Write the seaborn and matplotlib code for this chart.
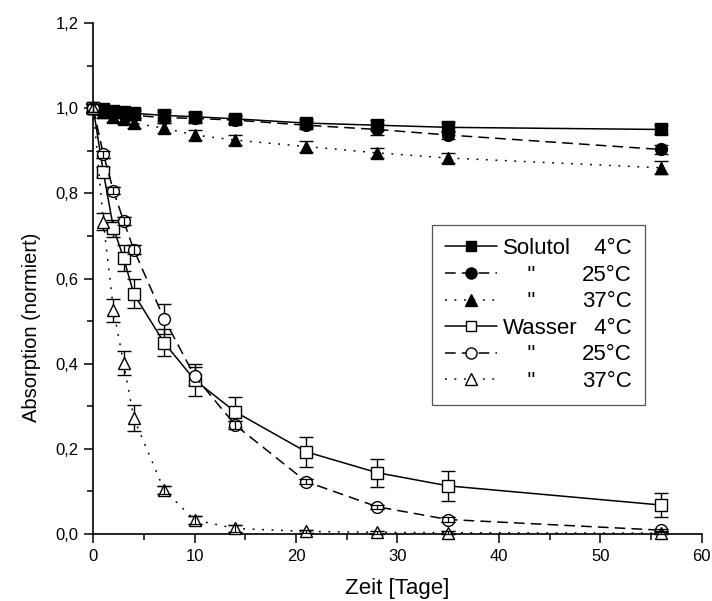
import matplotlib
matplotlib.use("Agg")
import matplotlib.pyplot as plt
import numpy as np
import pandas as pd
import seaborn as sns
from matplotlib.lines import Line2D
from matplotlib.ticker import MultipleLocator, FuncFormatter

# Sampling days
days = [0, 1, 2, 3, 4, 7, 10, 14, 21, 28, 35, 56]

# Normalised absorption, Solutol formulation
solutol_4 = [1.0, 0.997, 0.993, 0.99, 0.988, 0.983, 0.98, 0.975, 0.965, 0.96, 0.955, 0.95]
solutol_4_err = [0.012, 0.01, 0.01, 0.01, 0.01, 0.012, 0.01, 0.01, 0.01, 0.012, 0.012, 0.01]
solutol_25 = [1.0, 0.995, 0.99, 0.987, 0.983, 0.978, 0.976, 0.972, 0.96, 0.95, 0.937, 0.903]
solutol_25_err = [0.012, 0.01, 0.01, 0.01, 0.01, 0.012, 0.01, 0.01, 0.01, 0.012, 0.01, 0.01]
solutol_37 = [1.0, 0.99, 0.98, 0.975, 0.965, 0.953, 0.937, 0.925, 0.91, 0.895, 0.883, 0.86]
solutol_37_err = [0.012, 0.012, 0.012, 0.012, 0.012, 0.012, 0.012, 0.012, 0.012, 0.012, 0.012, 0.015]

# Normalised absorption, aqueous solution
wasser_4 = [1.0, 0.85, 0.718, 0.648, 0.564, 0.449, 0.362, 0.287, 0.193, 0.144, 0.113, 0.068]
wasser_4_err = [0.01, 0.012, 0.02, 0.03, 0.034, 0.032, 0.038, 0.035, 0.035, 0.033, 0.035, 0.028]
wasser_25 = [1.0, 0.892, 0.806, 0.735, 0.668, 0.505, 0.371, 0.256, 0.123, 0.064, 0.034, 0.009]
wasser_25_err = [0.01, 0.008, 0.008, 0.01, 0.01, 0.035, 0.02, 0.01, 0.005, 0.005, 0.005, 0.003]
wasser_37 = [1.0, 0.733, 0.526, 0.401, 0.272, 0.103, 0.033, 0.013, 0.006, 0.004, 0.003, 0.002]
wasser_37_err = [0.01, 0.02, 0.027, 0.028, 0.03, 0.01, 0.01, 0.008, 0.004, 0.004, 0.004, 0.003]

legend_names = ["Solutol", '    "', '    "', "Wasser", '    "', '    "']
legend_temps = ["  4°C", "25°C", "37°C", "  4°C", "25°C", "37°C"]

x_ticks = [0, 10, 20, 30, 40, 50, 60]
y_ticks = [0.0, 0.2, 0.4, 0.6, 0.8, 1.0, 1.2]

sns.set_theme(style="ticks")
plt.rcParams["font.family"] = ["Liberation Sans", "DejaVu Sans"]

dash = (0, (7, 4))
dot = (0, (1.2, 5))
series = [
    (solutol_4, solutol_4_err, "s", "black", "-"),
    (solutol_25, solutol_25_err, "o", "black", dash),
    (solutol_37, solutol_37_err, "^", "black", dot),
    (wasser_4, wasser_4_err, "s", "white", "-"),
    (wasser_25, wasser_25_err, "o", "white", dash),
    (wasser_37, wasser_37_err, "^", "white", dot),
]

fig = plt.figure(figsize=(7.12, 6.01), dpi=100)
ax = fig.add_axes([0.1309, 0.1115, 0.8546, 0.8502])

msize = {"s": 8.0, "o": 8.5, "^": 8.5}
handles = []
for vals, errs, mk, face, ls in series:
    df = pd.DataFrame({"Tag": days, "Absorption": vals})
    sns.lineplot(data=df, x="Tag", y="Absorption", ax=ax, color="black",
                 linewidth=1.1, linestyle=ls, marker=mk, markersize=msize[mk],
                 markerfacecolor=face, markeredgecolor="black",
                 markeredgewidth=1.0, errorbar=None, zorder=3, clip_on=False)
    errs_arr = np.asarray(errs)
    ax.errorbar(days, vals, yerr=errs_arr, fmt="none", ecolor="black",
                elinewidth=1.0, capsize=4.8, capthick=1.0, zorder=2.5,
                clip_on=False)
    if face == "white":
        small = errs_arr < 0.012
        ax.errorbar(np.asarray(days)[small], np.asarray(vals)[small],
                    yerr=errs_arr[small], fmt="none", ecolor="black",
                    elinewidth=0.9, capsize=4.8, capthick=0.9, zorder=4,
                    clip_on=False)
    handles.append(Line2D([], [], color="black", linewidth=1.1, linestyle=ls,
                          marker=mk, markersize=msize[mk] - 0.5,
                          markerfacecolor=face, markeredgecolor="black",
                          markeredgewidth=1.0))

blank = [Line2D([], [], linestyle="none", marker=None) for _ in legend_temps]

ax.set_xlim(0, 60)
ax.set_ylim(0, 1.2)
ax.set_xticks(x_ticks)
ax.set_yticks(y_ticks)
ax.xaxis.set_minor_locator(MultipleLocator(5))
ax.yaxis.set_minor_locator(MultipleLocator(0.1))
ax.yaxis.set_major_formatter(FuncFormatter(lambda v, p: f"{v:.1f}".replace(".", ",")))
ax.tick_params(axis="both", which="major", direction="out", length=6.5,
               width=1.1, labelsize=12, colors="black", pad=4)
ax.tick_params(axis="both", which="minor", direction="out", length=4,
               width=1.1, colors="black")
sns.despine(ax=ax)
for sp in ("left", "bottom"):
    ax.spines[sp].set_linewidth(1.2)
    ax.spines[sp].set_color("black")

ax.set_xlabel("Zeit [Tage]", fontsize=16, color="black")
ax.set_ylabel("Absorption (normiert)", fontsize=14.5, color="black")
ax.xaxis.label.set_va("center")
ax.yaxis.label.set_va("center")
ax.xaxis.set_label_coords(0.5, -0.106)
ax.yaxis.set_label_coords(-0.102, 0.405)

leg = ax.legend(handles=handles + blank, labels=legend_names + legend_temps,
                ncol=2, loc="upper left", bbox_to_anchor=(0.557, 0.605),
                borderaxespad=0, fontsize=16, handlelength=2.3,
                handletextpad=0.3, columnspacing=-2.4, labelspacing=0.25,
                borderpad=0.6, frameon=True, fancybox=False,
                edgecolor="#555555", framealpha=1)
leg.get_frame().set_linewidth(0.9)
for t in leg.get_texts():
    t.set_color("black")

fig.savefig("out.png", dpi=100, facecolor="white")
